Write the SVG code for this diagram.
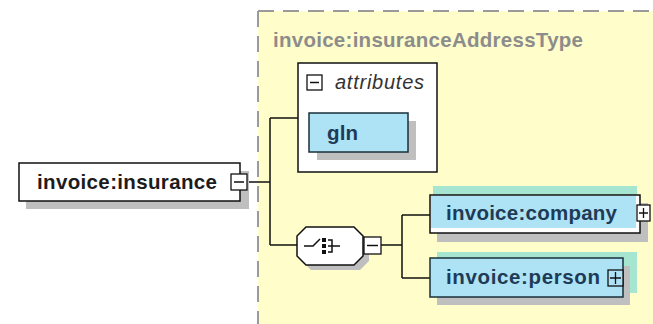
<svg xmlns="http://www.w3.org/2000/svg" width="653" height="324" viewBox="0 0 653 324">
<style>
.lbl{font-family:"Liberation Sans",Arial,sans-serif;font-weight:bold;font-size:20.5px;fill:#1c1c1c}
.elbl{font-family:"Liberation Sans",Arial,sans-serif;font-weight:bold;font-size:20.5px;fill:#1d3b56}
.ttl{font-family:"Liberation Sans",Arial,sans-serif;font-weight:bold;font-size:20.5px;fill:#8c8c8c}
.att{font-family:"Liberation Sans",Arial,sans-serif;font-style:italic;font-size:20px;fill:#333}
.shadow{fill:#bfbfbf}
.box{fill:#fff;stroke:#111;stroke-width:1.5}
.ebox{fill:#aee2f5;stroke:#1a2f3a;stroke-width:1.5}
.band{fill:#a6e5cf}
.btn{fill:#fff;stroke:#111;stroke-width:1.3}
.conn{fill:none;stroke:#111;stroke-width:1.5}
</style>
<rect width="653" height="324" fill="#fff"/>
<g id="type">
<rect x="258" y="11" width="395" height="313" fill="#fffdc9"/>
<path d="M258 11 H653 M258 11 V324" fill="none" stroke="#9a9a9a" stroke-width="2" stroke-dasharray="16,9"/>
<text class="ttl" x="273" y="47" textLength="310" lengthAdjust="spacing">invoice:insuranceAddressType</text>
</g>
<g id="connectors">
<path class="conn" d="M248 182 H270 M270 118 V245 M270 118 H298 M270 245 H297 M381 245 H402 M402 215 V278 M402 215 H430 M402 278 H430"/>
</g>
<g id="insurance">
<rect class="shadow" x="26" y="171" width="223" height="38"/>
<rect class="box" x="19" y="163" width="221" height="38"/>
<text class="lbl" x="37" y="189" textLength="180" lengthAdjust="spacing">invoice:insurance</text>
<rect class="btn" x="231" y="174" width="16" height="16"/>
<path d="M234 182 H244" stroke="#111" stroke-width="1.5"/>
</g>
<g id="attributes">
<rect class="box" x="298" y="63" width="139" height="109"/>
<rect class="btn" x="307" y="75" width="15" height="15"/>
<path d="M310 82.5 H319" stroke="#111" stroke-width="1.5"/>
<text class="att" x="335" y="89" textLength="89" lengthAdjust="spacing">attributes</text>
</g>
<g id="gln">
<rect class="shadow" x="317" y="121" width="99" height="39"/>
<rect class="ebox" x="309" y="113" width="99" height="39"/>
<text class="elbl" x="327" y="140" textLength="31" lengthAdjust="spacing">gln</text>
</g>
<g id="choice">
<path class="shadow" d="M311 232 H360 L369 241 V261 L360 270 H311 L302 261 V241 Z"/>
<path d="M306 227 H354 L363 236 V256 L354 265 H306 L297 256 V236 Z" fill="#fff" stroke="#111" stroke-width="1.5"/>
<path d="M304 246 H313 L320 239 M328 240 H332 V252 H328 M328 246 H340" fill="none" stroke="#111" stroke-width="1.5"/>
<rect x="322" y="238" width="4" height="4" fill="#111"/>
<rect x="322" y="244" width="4" height="4" fill="#111"/>
<rect x="322" y="250" width="4" height="4" fill="#111"/>
<rect class="btn" x="364" y="237" width="17" height="17"/>
<path d="M367 245.5 H378" stroke="#111" stroke-width="1.5"/>
</g>
<g id="company">
<rect class="band" x="433" y="186" width="204" height="40"/>
<rect class="shadow" x="437" y="203" width="211" height="39"/>
<rect x="430" y="195" width="210" height="38" fill="#fff" stroke="#111" stroke-width="1.5"/>
<rect x="431" y="196" width="205" height="32" fill="#aee2f5"/>
<text class="elbl" x="446" y="220" textLength="171" lengthAdjust="spacing">invoice:company</text>
<rect class="btn" x="637" y="205" width="13" height="16" fill="#fff"/>
<path d="M639 213 H648 M643.5 208 V218" stroke="#111" stroke-width="1.3"/>
</g>
<g id="person">
<rect class="band" x="437" y="252" width="200" height="41"/>
<rect class="shadow" x="437" y="266" width="193" height="39"/>
<rect class="ebox" x="430" y="258" width="193" height="39"/>
<text class="elbl" x="446" y="284" textLength="154" lengthAdjust="spacing">invoice:person</text>
<rect x="608" y="270" width="15" height="16" fill="#aee2f5" stroke="#111" stroke-width="1.3"/>
<path d="M610 278 H621 M615.5 272 V284" stroke="#111" stroke-width="1.3"/>
</g>
</svg>
